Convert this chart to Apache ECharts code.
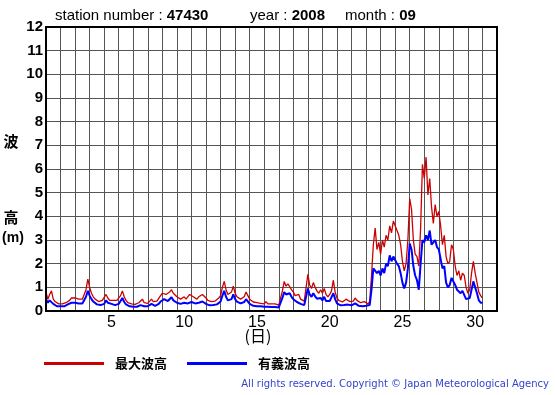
<!DOCTYPE html>
<html>
<head>
<meta charset="utf-8">
<script src="https://cdn.jsdelivr.net/npm/echarts@6/dist/echarts.min.js"></script>
<style>html,body{margin:0;padding:0;background:#fff;}#c{width:555px;height:395px;}</style>
</head>
<body>
<div id="c"></div>
<script>
// 3-hourly readings, Sep 1 00h .. Sep 30 24h (day fraction = index*3/24)
const hourStep = 3;
const maxWave = [
0.8,0.5,0.7,0.85,0.5,0.4,0.35,0.3,
0.35,0.3,0.3,0.35,0.4,0.45,0.55,0.5,
0.55,0.6,0.5,0.45,0.5,0.55,0.9,1.35,
1.0,0.75,0.6,0.5,0.45,0.4,0.4,0.45,
0.5,0.7,0.55,0.45,0.5,0.45,0.4,0.45,
0.5,0.65,0.85,0.6,0.45,0.35,0.3,0.3,
0.3,0.28,0.3,0.35,0.4,0.5,0.35,0.3,
0.32,0.4,0.5,0.4,0.38,0.42,0.5,0.65,
0.75,0.8,0.7,0.72,0.8,0.9,0.75,0.7,
0.6,0.55,0.5,0.55,0.6,0.5,0.55,0.7,
0.65,0.6,0.55,0.5,0.6,0.55,0.7,0.75,
0.55,0.45,0.42,0.4,0.45,0.42,0.5,0.55,
0.65,1.0,1.25,0.9,0.7,0.65,0.8,1.05,
0.75,0.6,0.55,0.5,0.5,0.6,0.8,0.65,
0.5,0.42,0.38,0.35,0.35,0.3,0.32,0.3,
0.3,0.4,0.3,0.28,0.3,0.28,0.3,0.28,
0.25,0.3,0.85,1.25,1.05,1.15,1.2,0.9,
0.8,0.65,0.6,0.7,0.5,0.45,0.42,0.45,
1.55,1.1,0.95,1.2,1.0,0.85,0.75,0.9,
0.75,0.95,0.7,0.6,0.7,0.85,1.3,0.8,
0.55,0.45,0.4,0.38,0.42,0.5,0.45,0.4,
0.4,0.42,0.55,0.45,0.38,0.35,0.35,0.4,
0.35,0.3,0.4,1.5,2.8,3.5,2.6,2.9,
2.4,3.0,2.7,3.2,3.0,3.6,3.3,3.8,
3.8,3.4,3.2,2.8,2.1,1.7,2.0,3.0,
4.75,4.3,3.0,2.4,2.3,1.9,3.5,6.2,
5.6,6.5,4.9,5.6,4.4,3.7,4.5,4.0,
4.2,3.6,2.8,3.2,2.3,2.0,2.1,2.8,
2.6,1.9,1.5,1.7,1.3,1.6,1.5,1.0,
0.75,0.9,1.6,2.1,1.6,1.2,0.8,0.65,
0.55
];
const sigWave = [
0.5,0.35,0.45,0.5,0.3,0.25,0.2,0.2,
0.2,0.18,0.2,0.22,0.28,0.3,0.35,0.3,
0.35,0.4,0.32,0.3,0.32,0.35,0.6,0.85,
0.65,0.5,0.4,0.32,0.28,0.25,0.25,0.28,
0.3,0.45,0.35,0.28,0.3,0.28,0.25,0.28,
0.3,0.42,0.55,0.38,0.28,0.22,0.2,0.18,
0.18,0.16,0.18,0.2,0.25,0.32,0.2,0.18,
0.2,0.25,0.3,0.25,0.22,0.25,0.3,0.4,
0.45,0.5,0.45,0.42,0.5,0.58,0.45,0.42,
0.35,0.32,0.3,0.32,0.35,0.3,0.32,0.4,
0.38,0.35,0.32,0.3,0.35,0.32,0.4,0.45,
0.3,0.26,0.24,0.22,0.25,0.23,0.28,0.3,
0.4,0.65,0.85,0.6,0.45,0.42,0.5,0.7,
0.5,0.4,0.35,0.32,0.32,0.38,0.5,0.42,
0.3,0.25,0.22,0.2,0.2,0.18,0.2,0.18,
0.18,0.22,0.18,0.16,0.17,0.16,0.17,0.16,
0.15,0.2,0.55,0.8,0.7,0.72,0.75,0.6,
0.5,0.42,0.38,0.42,0.3,0.28,0.25,0.27,
0.95,0.7,0.6,0.75,0.62,0.52,0.45,0.55,
0.45,0.6,0.42,0.38,0.42,0.5,0.75,0.5,
0.32,0.27,0.24,0.22,0.25,0.3,0.27,0.24,
0.24,0.25,0.32,0.27,0.22,0.2,0.2,0.22,
0.22,0.2,0.25,0.9,1.8,1.85,1.6,1.7,
1.5,1.8,1.6,2.0,1.9,2.35,2.1,2.3,
2.3,2.0,1.9,1.6,1.2,0.95,1.2,1.8,
2.85,2.6,1.9,1.5,1.3,0.9,2.0,3.0,
2.9,3.2,3.0,3.4,2.8,2.9,3.0,2.7,
2.6,2.2,1.8,1.9,1.2,1.0,1.1,1.4,
1.35,1.1,0.9,0.95,0.75,0.85,0.8,0.5,
0.45,0.55,0.9,1.25,1.0,0.75,0.45,0.35,
0.35
];
const dayLabels = ['1','2','3','4','5','6','7','8','9','10','11','12','13','14','15','16','17','18','19','20','21','22','23','24','25','26','27','28','29','30','31'];
const shownDays = ['5','10','15','20','25','30'];
const seriesNames = ['最大波高','有義波高'];
const titleParts = ['station number : ', '47430', 'year : ', '2008', 'month : ', '09'];

const toPts = arr => arr.map((v, i) => [i * hourStep / 24, v]);

const chart = echarts.init(document.getElementById('c'), null, {renderer: 'canvas'});
const sans = 'Liberation Sans, Arial, sans-serif';
const titleRich = {n: {fontSize: 15, fontFamily: sans, fill: '#000'}, b: {fontSize: 15, fontFamily: sans, fontWeight: 'bold', fill: '#000'}};
chart.setOption({
  animation: false,
  backgroundColor: '#fff',
  grid: {left: 46, right: 58, top: 27, bottom: 84, show: true, borderColor: '#000', borderWidth: 2, backgroundColor: 'transparent', z: 10},
  xAxis: [
    {type: 'value', min: 0, max: 31, interval: 1,
     axisLine: {show: false}, axisTick: {show: false}, axisLabel: {show: false},
     splitLine: {show: true, lineStyle: {color: '#555', width: 1}}},
    {type: 'category', data: dayLabels, position: 'bottom', boundaryGap: true,
     axisLine: {show: false}, axisTick: {show: false}, splitLine: {show: false},
     axisLabel: {margin: 4, fontSize: 16, color: '#000', fontFamily: sans,
       interval: (i, v) => shownDays.indexOf(v) >= 0}}
  ],
  yAxis: {type: 'value', min: 0, max: 12, interval: 1,
    axisLine: {show: false}, axisTick: {show: false},
    axisLabel: {margin: 3, fontSize: 15, fontWeight: 'bold', color: '#000', fontFamily: sans},
    splitLine: {show: true, lineStyle: {color: '#555', width: 1}}},
  legend: {
    left: 39, top: 352, icon: 'rect', itemWidth: 60, itemHeight: 3, itemGap: 20,
    textStyle: {fontSize: 13, fontWeight: 'bold', color: '#000', fontFamily: 'Noto Sans CJK JP', padding: [0, 0, 0, 6]},
    data: seriesNames
  },
  series: [
    {name: seriesNames[0], type: 'line', xAxisIndex: 0, data: toPts(maxWave), showSymbol: false,
     color: '#cc0000', lineStyle: {color: '#cc0000', width: 1.3}, z: 3},
    {name: seriesNames[1], type: 'line', xAxisIndex: 0, data: toPts(sigWave), showSymbol: false,
     color: '#0000ff', lineStyle: {color: '#0000ff', width: 2}, z: 4}
  ],
  graphic: [
    {type: 'text', left: 55, top: 8, style: {text: '{n|' + titleParts[0] + '}{b|' + titleParts[1] + '}', rich: titleRich}},
    {type: 'text', left: 250, top: 8, style: {text: '{n|' + titleParts[2] + '}{b|' + titleParts[3] + '}', rich: titleRich}},
    {type: 'text', left: 345, top: 8, style: {text: '{n|' + titleParts[4] + '}{b|' + titleParts[5] + '}', rich: titleRich}},
    {type: 'text', x: 11, y: 141, style: {text: '波', fontSize: 15, fontWeight: 'bold', fontFamily: 'Noto Sans CJK JP', fill: '#000', align: 'center', verticalAlign: 'middle'}},
    {type: 'text', x: 11, y: 217, style: {text: '高', fontSize: 15, fontWeight: 'bold', fontFamily: 'Noto Sans CJK JP', fill: '#000', align: 'center', verticalAlign: 'middle'}},
    {type: 'text', x: 13, y: 238, style: {text: '(m)', fontSize: 14, fontWeight: 'bold', fontFamily: sans, fill: '#000', align: 'center', verticalAlign: 'middle'}},
    {type: 'text', x: 258, y: 336, style: {text: '(日)', fontSize: 16, fontFamily: 'Noto Sans CJK JP', fill: '#000', align: 'center', verticalAlign: 'middle'}},
    {type: 'text', x: 549, y: 384, style: {text: 'All rights reserved. Copyright © Japan Meteorological Agency', fontSize: 10, fontFamily: 'DejaVu Sans', fill: '#3344cc', align: 'right', verticalAlign: 'middle'}}
  ]
});
</script>
</body>
</html>
